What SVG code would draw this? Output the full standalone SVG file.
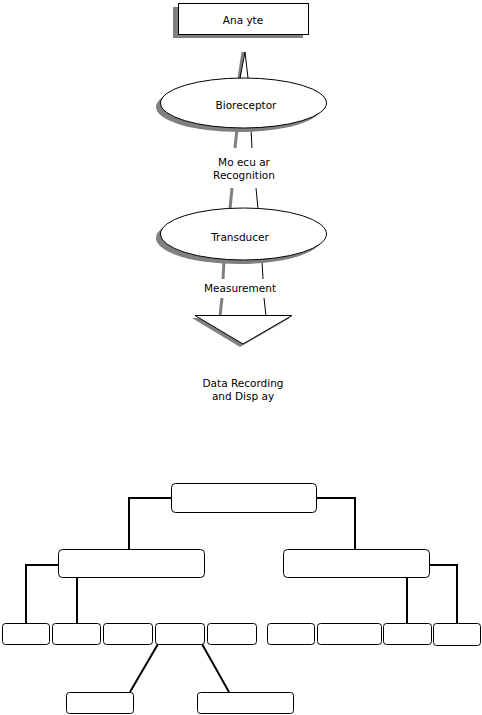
<svg xmlns="http://www.w3.org/2000/svg" width="482" height="715" viewBox="0 0 482 715">
<style>
.t{font-family:"DejaVu Sans",Verdana,sans-serif;font-size:10.5px;fill:#000;text-anchor:middle}
.sh{fill:#808080;stroke:none}
.nd{fill:#fff;stroke:#000;stroke-width:1}
.bx{fill:#fff;stroke:#000;stroke-width:1}
.cn{fill:none;stroke:#000;stroke-width:2}
.thin{fill:none;stroke:#000;stroke-width:1}
.gl{fill:none;stroke:#808080;stroke-width:3}
</style>
<rect width="482" height="715" fill="#fff"/>
<g id="connectors">
  <!-- upper flow lines -->
  <path class="gl" d="M243,52 L239,78"/>
  <path class="thin" d="M245,52 L240,78 M245,52 L248,78"/>
  <path class="gl" d="M237,129 L235,148"/>
  <path class="thin" d="M251,129 L252,148"/>
  <path class="gl" d="M232,188 L230,209"/>
  <path class="thin" d="M256,188 L258,209"/>
  <path class="gl" d="M224,261 L223,279"/>
  <path class="thin" d="M262,261 L263,279"/>
  <path class="gl" d="M222,298 L220,316"/>
  <path class="thin" d="M264,298 L266,316"/>
  <!-- tree connectors -->
  <path class="cn" d="M171,498 H129 V549"/>
  <path class="cn" d="M316,498 H355 V549"/>
  <path class="cn" d="M58,565 H26 V623"/>
  <path class="cn" d="M77,577 V623"/>
  <path class="cn" d="M429,565 H457 V623"/>
  <path class="cn" d="M407,577 V623"/>
  <path class="cn" d="M158,644 L130,692"/>
  <path class="cn" d="M202,644 L229,692"/>
</g>
<g id="analyte">
  <rect class="sh" x="173" y="7" width="130" height="31"/>
  <rect class="nd" x="178.5" y="3.5" width="130" height="31"/>
  <text class="t" x="243" y="24">Ana yte</text>
</g>
<g id="bioreceptor">
  <ellipse class="sh" cx="239" cy="107" rx="83" ry="25"/>
  <ellipse class="nd" cx="243.5" cy="103" rx="83" ry="25"/>
  <text class="t" x="246" y="109">Bioreceptor</text>
</g>
<g id="molecular-recognition">
  <text class="t" x="244" y="166">Mo ecu ar</text>
  <text class="t" x="244" y="179">Recognition</text>
</g>
<g id="transducer">
  <ellipse class="sh" cx="239" cy="238" rx="83" ry="26"/>
  <ellipse class="nd" cx="243.5" cy="234" rx="83" ry="26"/>
  <text class="t" x="240" y="241">Transducer</text>
</g>
<g id="measurement">
  <text class="t" x="240" y="292">Measurement</text>
</g>
<g id="display">
  <polygon class="sh" points="192,318 290,318 240,347"/>
  <polygon class="nd" points="195,315.5 292,315.5 243,344"/>
  <text class="t" x="243" y="387">Data Recording</text>
  <text class="t" x="243" y="400">and Disp ay</text>
</g>
<g id="root"><rect class="bx" x="171.5" y="483.5" width="145" height="29" rx="4"/></g>
<g id="mid-left"><rect class="bx" x="58.5" y="549.5" width="146" height="28" rx="4"/></g>
<g id="mid-right"><rect class="bx" x="283.5" y="549.5" width="146" height="28" rx="4"/></g>
<g id="leaf1"><rect class="bx" x="2.5" y="623.5" width="47" height="21" rx="3"/></g>
<g id="leaf2"><rect class="bx" x="52.5" y="623.5" width="48" height="21" rx="3"/></g>
<g id="leaf3"><rect class="bx" x="103.5" y="623.5" width="49" height="21" rx="3"/></g>
<g id="leaf4"><rect class="bx" x="155.5" y="623.5" width="49" height="21" rx="3"/></g>
<g id="leaf5"><rect class="bx" x="207.5" y="623.5" width="49" height="21" rx="3"/></g>
<g id="leaf6"><rect class="bx" x="267.5" y="623.5" width="47" height="21" rx="3"/></g>
<g id="leaf7"><rect class="bx" x="317.5" y="623.5" width="64" height="21" rx="3"/></g>
<g id="leaf8"><rect class="bx" x="383.5" y="623.5" width="48" height="21" rx="3"/></g>
<g id="leaf9"><rect class="bx" x="433.5" y="623.5" width="47" height="22" rx="3"/></g>
<g id="sub1"><rect class="bx" x="66.5" y="692.5" width="67" height="21" rx="3"/></g>
<g id="sub2"><rect class="bx" x="197.5" y="692.5" width="96" height="21" rx="3"/></g>
</svg>
